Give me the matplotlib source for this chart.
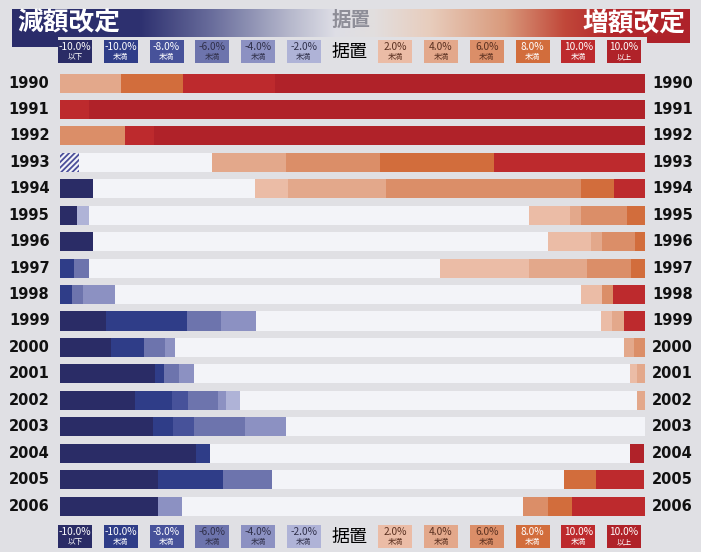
import matplotlib
matplotlib.use("Agg")
import matplotlib.pyplot as plt
import numpy as np
from matplotlib import font_manager
from matplotlib.colors import to_rgb

plt.rcParams['font.family'] = ['Noto Sans CJK JP', 'DejaVu Sans']
plt.rcParams['hatch.linewidth'] = 1.3

years = [1990, 1991, 1992, 1993, 1994, 1995, 1996, 1997, 1998,
         1999, 2000, 2001, 2002, 2003, 2004, 2005, 2006]

# share of companies (%) per revision band
hatched = [0, 0, 0, 3.3, 0, 0, 0, 0, 0, 0, 0, 0, 0, 0, 0, 0, 0]
neg10_below = [0, 0, 0, 0, 5.6, 2.9, 5.6, 0, 0, 7.9, 8.8, 16.2, 12.9, 15.9, 23.2, 16.8, 16.8]
neg10 = [0, 0, 0, 0, 0, 0, 0, 2.4, 2.0, 13.8, 5.6, 1.5, 6.3, 3.5, 2.4, 11.1, 0]
neg8 = [0, 0, 0, 0, 0, 0, 0, 0, 0, 0, 0, 0, 2.6, 3.5, 0, 0, 0]
neg6 = [0, 0, 0, 0, 0, 0, 0, 2.5, 2.0, 5.9, 3.6, 2.6, 5.2, 8.8, 0, 8.3, 0]
neg4 = [0, 0, 0, 0, 0, 0, 0, 0, 5.4, 5.9, 1.6, 2.6, 1.3, 6.9, 0, 0, 4.1]
neg2 = [0, 0, 0, 0, 0, 2.0, 0, 0, 0, 0, 0, 0, 2.5, 0, 0, 0, 0]
flat = [0, 0, 0, 22.6, 27.8, 75.2, 77.8, 60.1, 79.7, 58.9, 76.8, 74.5, 67.9, 61.4, 71.9, 50.0, 58.3]
pos2 = [0, 0, 0, 0, 5.6, 7.0, 7.3, 15.1, 3.6, 2.0, 0, 1.2, 0, 0, 0, 0, 0]
pos4 = [10.5, 0, 0, 12.8, 16.7, 2.0, 2.0, 10.0, 0, 2.0, 1.8, 1.4, 1.3, 0, 0, 0, 0]
pos6 = [0, 0, 11.1, 16.0, 33.4, 7.9, 5.6, 7.5, 1.8, 0, 1.8, 0, 0, 0, 0, 0, 4.3]
pos8 = [10.5, 0, 0, 19.5, 5.6, 3.1, 1.8, 2.4, 0, 0, 0, 0, 0, 0, 0, 5.4, 4.1]
pos10 = [15.7, 5.0, 4.9, 25.8, 5.4, 0, 0, 0, 5.5, 3.7, 0, 0, 0, 0, 0, 8.3, 12.4]
pos10_over = [63.3, 95.0, 84.0, 0, 0, 0, 0, 0, 0, 0, 0, 0, 0, 0, 2.4, 0, 0]

band_top = ['-10.0%', '-10.0%', '-8.0%', '-6.0%', '-4.0%', '-2.0%', '据置',
            '2.0%', '4.0%', '6.0%', '8.0%', '10.0%', '10.0%']
band_bottom = ['以下', '未満', '未満', '未満', '未満', '未満', '',
               '未満', '未満', '未満', '未満', '未満', '以上']
band_colors = ['#2a2c66', '#2f3d88', '#47529a', '#6d74ad', '#8c91c2', '#afb3d7', '#f3f4f8',
               '#ebbca6', '#e3a88b', '#db8e68', '#d26d3c', '#bd2a2d', '#b02229']
text_colors = ['white', 'white', 'white', '#30304a', '#30304a', '#30304a', 'black',
               '#5a3020', '#5a3020', '#5a3020', 'white', 'white', 'white']

series = [neg10_below, neg10, neg8, neg6, neg4, neg2, flat,
          pos2, pos4, pos6, pos8, pos10, pos10_over]

W, H = 701, 552
fig = plt.figure(figsize=(W / 100, H / 100), dpi=100)
fig.patch.set_facecolor('#e0e0e4')

# background / decoration layer in pixel coordinates
bg = fig.add_axes([0, 0, 1, 1], zorder=0)
bg.set_xlim(0, W)
bg.set_ylim(H, 0)
bg.axis('off')

# header gradient: navy -> white -> red
stops = [(12, '#2a2c6a'), (140, '#2e3170'), (215, '#6c709e'), (290, '#b6b8cc'),
         (335, '#dedee6'), (375, '#e2dede'), (430, '#e8cdbd'), (505, '#d99a7c'),
         (565, '#c1483a'), (610, '#b4282c'), (690, '#ae222a')]
xs = np.arange(12, 691)
sx = [s[0] for s in stops]
rgb = np.array([to_rgb(s[1]) for s in stops])
grad = np.stack([np.interp(xs, sx, rgb[:, k]) for k in range(3)], axis=-1)
bg.imshow(grad[np.newaxis, :, :], extent=(12, 690, 37, 9), aspect='auto', zorder=1)
bg.add_patch(plt.Rectangle((12, 36), 46, 11, color='#2a2c6a', lw=0, zorder=1))
bg.add_patch(plt.Rectangle((647, 36), 43, 7, color='#ae222a', lw=0, zorder=1))
bg.text(17, 23, '減額改定', color='white', fontsize=18.5, fontweight='bold',
        ha='left', va='center', zorder=3)
bg.text(685, 23, '増額改定', color='white', fontsize=18.5, fontweight='bold',
        ha='right', va='center', zorder=3)
bg.text(351, 20, '据置', color='#8e8e98', fontsize=14, fontweight='bold',
        ha='center', va='center', zorder=3)

# legend rows (top and bottom)
centers = 75 + 45.75 * np.arange(len(band_top))
for ly in (51, 536):
    for cx, t1, t2, c, tc in zip(centers, band_top, band_bottom, band_colors, text_colors):
        if t2 == '':
            bg.text(cx, ly + 1, t1, fontsize=13, color='black', ha='center', va='center', zorder=3)
            continue
        bg.add_patch(plt.Rectangle((cx - 17, ly - 11), 34, 23, color=c, lw=0, zorder=2))
        bg.text(cx, ly - 4, t1, fontsize=7.3, color=tc, ha='center', va='center', zorder=3)
        bg.text(cx, ly + 6, t2, fontsize=5.5, color=tc, ha='center', va='center', zorder=3)

# year label font: condensed if the system has one
year_font, year_size, year_stretch = 'DejaVu Sans', 10.5, 'normal'
for f in font_manager.fontManager.ttflist:
    if f.name == 'Liberation Sans Narrow':
        year_font, year_size, year_stretch = 'Liberation Sans Narrow', 14.5, 'normal'
        break
    if f.name == 'DejaVu Sans' and f.stretch == 'condensed' and f.weight == 'bold':
        year_font, year_size, year_stretch = 'DejaVu Sans', 12, 'condensed'

# main stacked bar chart
ax = fig.add_axes([60 / W, 1 - 519.3 / H, 585 / W, 449.5 / H], zorder=1)
ax.set_facecolor('none')
y = np.arange(len(years))
left = np.zeros(len(years))
ax.barh(y, hatched, left=left, height=0.72, color='#f3f4f8', hatch='//////',
        edgecolor='#4b4f9a', linewidth=0)
left += np.array(hatched)
for vals, c in zip(series, band_colors):
    ax.barh(y, vals, left=left, height=0.72, color=c, linewidth=0)
    left += np.array(vals)

ax.set_xlim(0, 100)
ax.set_ylim(len(years) - 0.5, -0.5)
ax.axis('off')

for yi, yr in zip(y, years):
    ax.text(-1.8, yi, str(yr), ha='right', va='center', fontsize=year_size,
            fontweight='bold', family=year_font, fontstretch=year_stretch, color='#111111')
    ax.text(101.2, yi, str(yr), ha='left', va='center', fontsize=year_size,
            fontweight='bold', family=year_font, fontstretch=year_stretch, color='#111111')

fig.savefig('out.png', dpi=100, facecolor=fig.get_facecolor())
